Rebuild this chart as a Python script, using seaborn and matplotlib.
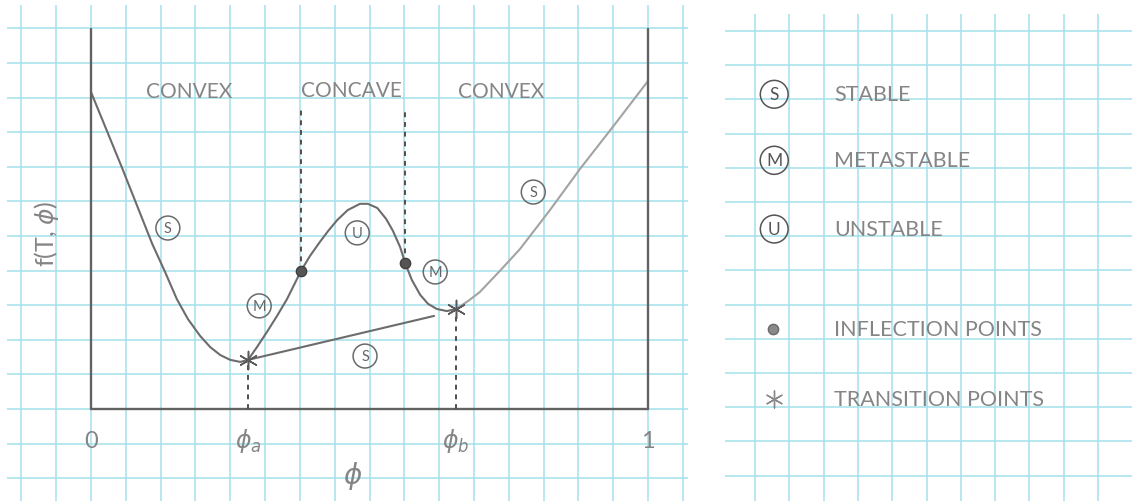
import numpy as np
import pandas as pd
import matplotlib
matplotlib.use("Agg")
import matplotlib.pyplot as plt
import seaborn as sns

# ---- data -----------------------------------------------------------------
# free-energy curve f(T, phi) sampled along the composition axis
phi_curve = [0.000, 0.055, 0.110, 0.133, 0.154, 0.174, 0.196, 0.214, 0.232,
             0.250, 0.268, 0.282, 0.298, 0.316, 0.334, 0.352, 0.377, 0.393,
             0.411, 0.426, 0.442, 0.461, 0.483, 0.497, 0.514, 0.530, 0.542,
             0.555, 0.564, 0.576, 0.591, 0.605, 0.621, 0.639, 0.655, 0.677,
             0.698, 0.734, 0.770, 0.824, 0.878, 0.941, 1.000]
f_curve = [9.16, 7.00, 4.77, 3.96, 3.18, 2.60, 2.11, 1.79, 1.56,
           1.42, 1.36, 1.42, 1.79, 2.23, 2.69, 3.18, 3.99, 4.42,
           4.83, 5.15, 5.46, 5.75, 5.93, 5.93, 5.81, 5.49, 5.15,
           4.68, 4.22, 3.73, 3.30, 3.04, 2.89, 2.83, 2.89, 3.12,
           3.38, 3.99, 4.62, 5.75, 6.94, 8.24, 9.48]

# inflection points (spinodal) and transition points (binodal)
inflect_phi = [0.377, 0.564]
inflect_f = [3.99, 4.22]
trans_phi = [0.282, 0.655]
trans_f = [1.42, 2.89]

# common-tangent segment starting at phi_a
tangent_phi = [0.282, 0.616]
tangent_f = [1.42, 2.69]

frame_top = 10.98          # height of the drawn axes box
region_top = 8.70          # upper end of the concave-region markers

region_labels = ["CONVEX", "CONCAVE", "CONVEX"]
region_phi = [0.176, 0.468, 0.737]
region_f = [9.20, 9.22, 9.20]

branch_labels = ["S", "M", "U", "M", "S", "S"]
branch_phi = [0.138, 0.302, 0.478, 0.618, 0.794, 0.492]
branch_f = [5.23, 2.98, 5.09, 3.96, 6.27, 1.53]

tick_labels = ["0", r"$\phi_a$", r"$\phi_b$", "1"]
tick_phi = [0.0, 0.282, 0.655, 1.0]

legend_keys = ["S", "M", "U", "dot", "star"]
legend_texts = ["STABLE", "METASTABLE", "UNSTABLE",
                "INFLECTION POINTS", "TRANSITION POINTS"]
legend_row = [1.85, 3.78, 5.79, 8.70, 10.76]

# ---- style ----------------------------------------------------------------
sns.set_theme(style="white")
plt.rcParams["font.family"] = ["Lato", "DejaVu Sans"]
plt.rcParams["mathtext.fontset"] = "dejavusans"

GRID = "#a4e0ec"
PENCIL = "#6c6c6c"
PENCIL_LIGHT = "#a3a3a3"
TEXT = "#858585"

fig = plt.figure(figsize=(11.32, 5.02), dpi=100, facecolor="white")


def graph_paper(ax, xt, yt):
    ax.set_facecolor("white")
    ax.set_xticks(xt)
    ax.set_yticks(yt)
    ax.tick_params(length=0, labelbottom=False, labelleft=False)
    ax.grid(True, color=GRID, lw=1.1)
    ax.set_axisbelow(True)
    for s in ax.spines.values():
        s.set_visible(False)
    ax.set_xlabel("")
    ax.set_ylabel("")


# ---- left panel: the free-energy sketch -----------------------------------
ax = fig.add_axes([7 / 1132, 0.0, 681 / 1132, 496 / 502])

# curve split at phi_b: drawn branch and the lighter stable continuation
split = phi_curve.index(trans_phi[1])
df = pd.DataFrame({
    "phi": phi_curve[:split + 1] + phi_curve[split:],
    "f": f_curve[:split + 1] + f_curve[split:],
    "part": ["main"] * (split + 1) + ["tail"] * (len(phi_curve) - split),
})
sns.lineplot(data=df, x="phi", y="f", hue="part", units="part",
             estimator=None, sort=False, legend=False, ax=ax,
             palette={"main": PENCIL, "tail": PENCIL_LIGHT}, lw=1.5,
             solid_capstyle="round", solid_joinstyle="round")

# axes box
ax.plot([0, 0], [0, frame_top], color="#626262", lw=1.7)
ax.plot([1, 1], [0, frame_top], color="#626262", lw=1.7)
ax.plot([0, 1], [0, 0], color="#626262", lw=1.7)

# common tangent
ax.plot(tangent_phi, tangent_f, color=PENCIL, lw=1.5)

# dashed guides: concave region bounds and transition compositions
for p, fv in zip(inflect_phi, inflect_f):
    ax.plot([p, p], [fv, region_top], color="#4f4f4f", lw=1.4,
            dashes=(2.5, 2.5))
for p, fv in zip(trans_phi, trans_f):
    ax.plot([p, p], [0, fv - 0.15], color="#4f4f4f", lw=1.4,
            dashes=(2.5, 2.5))

sns.scatterplot(x=inflect_phi, y=inflect_f, ax=ax, s=55, color="#555555",
                edgecolor="#3f3f3f", linewidth=1.0, zorder=5)
sns.scatterplot(x=trans_phi, y=trans_f, ax=ax, marker=(6, 2, 0), s=170,
                color="#5a5a5a", linewidth=1.1, zorder=5)

for txt, p, fv in zip(region_labels, region_phi, region_f):
    ax.text(p, fv, txt, ha="center", va="center", fontsize=15,
            color=TEXT)

for txt, p, fv in zip(branch_labels, branch_phi, branch_f):
    ax.text(p, fv, txt, ha="center", va="center", fontsize=10.5,
            color="#666666",
            bbox=dict(boxstyle="circle,pad=0.34", fc="none",
                      ec="#6a6a6a", lw=1.1))

for txt, p in zip(tick_labels, tick_phi):
    ax.text(p, -0.90, txt, ha="center", va="center", fontsize=17,
            color=TEXT)

ax.text(0.469, -1.90, r"$\phi$", ha="center", va="center",
        fontsize=20, color=TEXT)
ax.text(-0.079, 5.09, r"f(T, $\phi$)", ha="center", va="center",
        rotation=90, fontsize=18, color=TEXT)

ax.set_xlim(-0.1508, 1.0718)
ax.set_ylim(-2.659, 11.676)
graph_paper(ax, np.arange(-2, 18) / 16, np.arange(-2, 12))

# ---- right panel: key ------------------------------------------------------
lg = fig.add_axes([725 / 1132, 0.0, 407 / 1132, 487 / 502])
for key, txt, row in zip(legend_keys, legend_texts, legend_row):
    if key == "dot":
        lg.scatter([0.53], [row], s=55, color="#8a8a8a",
                   edgecolor="#6a6a6a", linewidth=1.0, zorder=5)
    elif key == "star":
        lg.scatter([0.56], [row], s=150, marker=(6, 2, 0),
                   color="#8a8a8a", linewidth=1.0, zorder=5)
    else:
        lg.text(0.56, row, key, ha="center", va="center", fontsize=12.5,
                color="#555555",
                bbox=dict(boxstyle="circle,pad=0.34", fc="none",
                          ec="#555555", lw=1.1))
    lg.text(2.30, row, txt, ha="left", va="center", fontsize=15.5,
            color=TEXT)

lg.set_xlim(-0.875, 10.99)
lg.set_ylim(13.74, -0.497)
graph_paper(lg, np.arange(0, 11), np.arange(0, 14))

fig.savefig("out.png", dpi=100, facecolor="white")
